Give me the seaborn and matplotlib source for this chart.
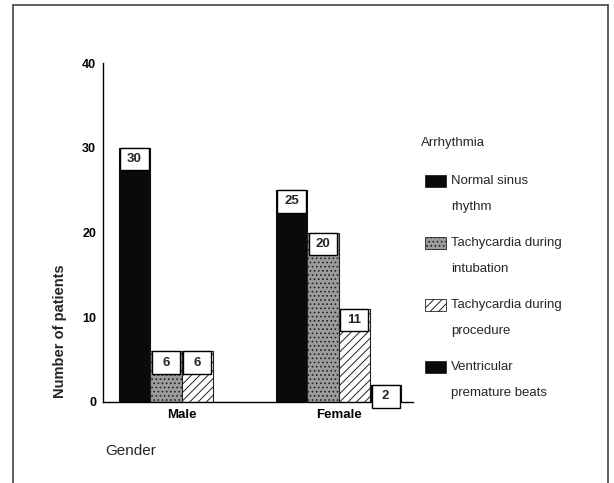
import pandas as pd
import matplotlib
matplotlib.use('Agg')
import matplotlib.pyplot as plt
import seaborn as sns
from matplotlib.patches import Rectangle
from matplotlib.lines import Line2D

# 데이터
genders = ['Male', 'Female']
arrhythmias = ['Normal sinus rhythm', 'Tachycardia during intubation',
               'Tachycardia during procedure', 'Ventricular premature beats']
legend_labels = ['Normal sinus\nrhythm', 'Tachycardia during\nintubation',
                 'Tachycardia during\nprocedure', 'Ventricular\npremature beats']
male_counts = [30, 6, 6, 0]
female_counts = [25, 20, 11, 2]
y_ticks = [0, 10, 20, 30, 40]

# 막대 스타일
face_colors = ['#0a0a0a', '#9c9c9c', '#ffffff', '#0a0a0a']
hatches = [None, '....', '////', None]

df = pd.DataFrame({
    'Gender': [g for g in genders for _ in arrhythmias],
    'Arrhythmia': arrhythmias * len(genders),
    'Patients': male_counts + female_counts,
})

sns.set_style('white')
plt.rcParams['font.family'] = ['Liberation Sans', 'DejaVu Sans']
plt.rcParams['hatch.linewidth'] = 0.7

W, H = 614, 483
fig = plt.figure(figsize=(W / 100, H / 100), dpi=100)
ax = fig.add_axes([103 / W, (H - 402) / H, 310 / W, 339 / H])

sns.barplot(data=df, x='Gender', y='Patients', hue='Arrhythmia', order=genders,
            hue_order=arrhythmias, palette=face_colors, width=0.8, saturation=1,
            edgecolor='#111111', linewidth=0.8, legend=False, ax=ax)

# 패턴 + 값 상자
for cont, hatch in zip(ax.containers, hatches):
    for bar in cont:
        if hatch:
            bar.set_hatch(hatch)
            bar.set_edgecolor('#222222')
        h = bar.get_height()
        if h <= 0:
            continue
        w = bar.get_width()
        box = Rectangle((bar.get_x() + 0.05 * w, h - 2.68), 0.9 * w, 2.68,
                        facecolor='white', edgecolor='black', linewidth=1.0,
                        zorder=4, clip_on=False)
        ax.add_patch(box)
        ax.text(bar.get_x() + w / 2, h - 1.34, f'{int(h)}', ha='center', va='center',
                fontsize=9.5, fontweight='bold', zorder=5)

ax.set_xlim(-0.5, 1.474)
ax.set_ylim(0, 40)
ax.set_yticks(y_ticks)
sns.despine(ax=ax)
for s in ['left', 'bottom']:
    ax.spines[s].set_linewidth(1.0)
    ax.spines[s].set_color('black')
ax.tick_params(axis='both', direction='inout', length=5, width=0.9, colors='black',
               labelsize=9, pad=2.5)
ax.tick_params(axis='x', labelsize=9.5)
for lab in ax.get_xticklabels() + ax.get_yticklabels():
    lab.set_fontweight('bold')

ax.set_ylabel('Number of patients', fontsize=10.5, fontweight='bold')
ax.yaxis.set_label_coords(-0.115, 0.21)
ax.set_xlabel('Gender', fontsize=11)
ax.xaxis.set_label_coords(0.09, -0.125)
ax.xaxis.label.set_va('top')


def fx(x):
    return x / W


def fy(y):
    return 1 - y / H


# 범례 (수동)
fig.text(fx(421), fy(143), 'Arrhythmia', fontsize=9.5, va='center', ha='left')
for i, lab in enumerate(legend_labels):
    yc = 181 + 62 * i
    fig.add_artist(Rectangle((fx(425), fy(yc + 6)), 21 / W, 12 / H,
                             facecolor=face_colors[i], edgecolor='#222222',
                             hatch=hatches[i], linewidth=0.6,
                             transform=fig.transFigure))
    first, second = lab.split('\n')
    fig.text(fx(451), fy(yc), first, fontsize=9.5, va='center', ha='left')
    fig.text(fx(451), fy(yc + 26), second, fontsize=9.5, va='center', ha='left')

# 테두리
border = dict(color='#444444', linewidth=1.2, transform=fig.transFigure)
fig.add_artist(Line2D([fx(13), fx(13)], [0, fy(5)], **border))
fig.add_artist(Line2D([fx(13), fx(608)], [fy(5), fy(5)], **border))
fig.add_artist(Line2D([fx(608), fx(608)], [fy(5), 0], **border))

plt.savefig('out.png', dpi=100)
